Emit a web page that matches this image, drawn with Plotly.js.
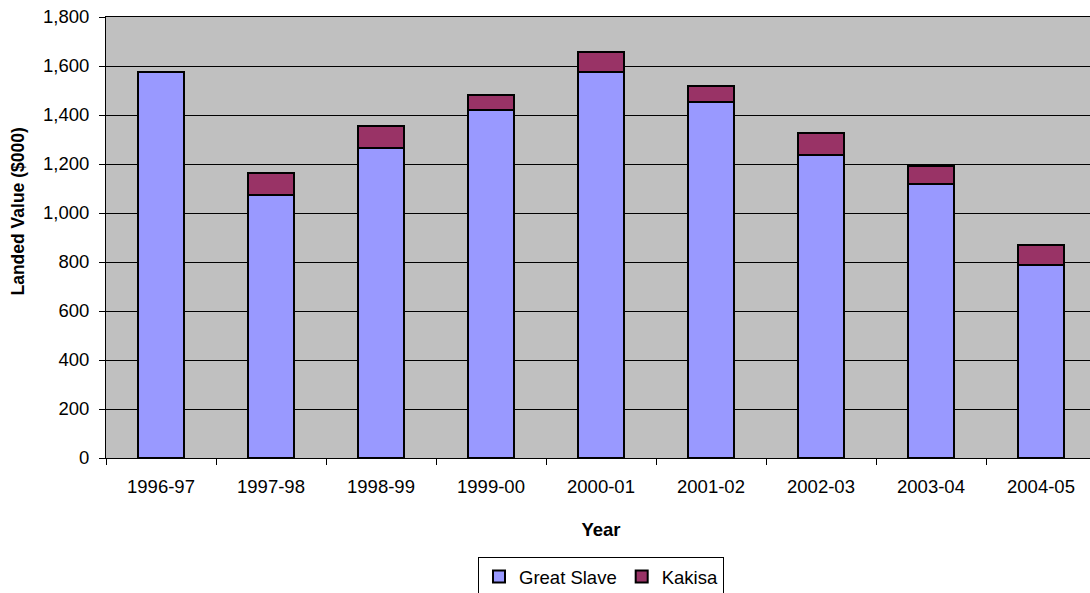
<!DOCTYPE html>
<html><head><meta charset="utf-8">
<script src="https://cdn.plot.ly/plotly-3.0.1.min.js"></script>
<style>html,body{margin:0;padding:0;background:#fff;overflow:hidden}#chart{width:1096px;height:605px}</style>
</head><body><div id="chart"></div>
<script>
const years = ["1996-97","1997-98","1998-99","1999-00","2000-01","2001-02","2002-03","2003-04","2004-05"];
const greatSlave = [1577, 1072, 1265, 1420, 1576, 1452, 1235, 1117, 786];
const kakisa = [0, 90, 90, 63, 82, 66, 90, 75, 82];
const yTicks = [0,200,400,600,800,1000,1200,1400,1600,1800];

const fam = "Liberation Sans, Arial, sans-serif";
const font = {family: fam, size: 18.5, color: "#000"};
const titleFont = {family: fam, size: 17.5, color: "#000"};
const traces = [
  {type:"bar", name:"Great Slave", x:years, y:greatSlave,
   marker:{color:"#9999FF", line:{color:"#000", width:2}}},
  {type:"bar", name:"Kakisa", x:years, y:kakisa,
   marker:{color:"#993366", line:{color:"#000", width:2}}}
];
const layout = {
  width:1096, height:605, barmode:"stack", bargap:0.59,
  margin:{l:106, r:0, t:17, b:147},
  paper_bgcolor:"#fff", plot_bgcolor:"#C0C0C0", font:font, showlegend:true,
  xaxis:{type:"category", showline:true, linecolor:"#000", linewidth:1, mirror:true,
    ticks:"outside", tickson:"boundaries", ticklen:6, tickcolor:"#000", ticklabelstandoff:12,
    title:{text:"<b>Year</b>", font:{family:fam, size:18.5, color:"#000"}, standoff:26}, tickfont:font},
  yaxis:{range:[0,1800], tickvals:yTicks, ticktext:yTicks.map(v=>v.toLocaleString("en-US")),
    showgrid:true, gridcolor:"#000", gridwidth:1, showline:true, linecolor:"#000", mirror:true,
    ticks:"outside", ticklen:6, tickcolor:"#000", zeroline:false, ticklabelstandoff:6,
    tickfont:font},
  annotations:[{text:"<b>Landed Value ($000)</b>", xref:"paper", yref:"paper",
    x:(17.5-106)/990, y:(458-212)/441, xanchor:"center", yanchor:"middle",
    textangle:-90, showarrow:false, font:titleFont}],
  legend:{orientation:"h", x:0.5, xanchor:"center", y:-0.2245, yanchor:"top",
    bgcolor:"#fff", bordercolor:"#000", borderwidth:1, font:font, traceorder:"normal"}
};
Plotly.newPlot("chart", traces, layout, {displayModeBar:false, staticPlot:true});
</script></body></html>
